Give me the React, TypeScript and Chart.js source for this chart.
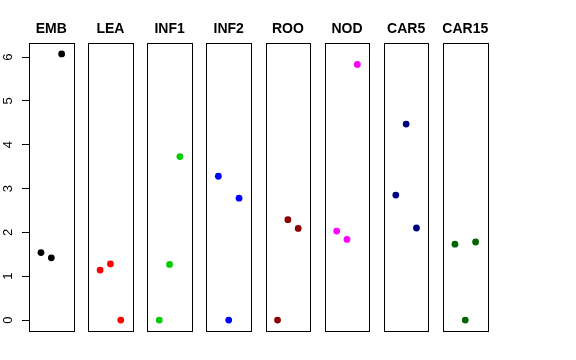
import React, { useEffect, useRef } from "react";
import { Chart, registerables } from "chart.js";

Chart.register(...registerables);

const panels = ["EMB", "LEA", "INF1", "INF2", "ROO", "NOD", "CAR5", "CAR15"];
const colors = ["#000000", "#FF0000", "#00CD00", "#0000FF", "#8B0000", "#FF00FF", "#000080", "#006400"];
const positions = [1, 2, 3];
const embValues = [1.54, 1.42, 6.07];
const leaValues = [1.14, 1.28, 0];
const inf1Values = [0, 1.27, 3.73];
const inf2Values = [3.28, 0, 2.78];
const rooValues = [0, 2.29, 2.09];
const nodValues = [2.03, 1.84, 5.83];
const car5Values = [2.85, 4.47, 2.1];
const car15Values = [1.73, 0, 1.78];
const seriesValues = [embValues, leaValues, inf1Values, inf2Values, rooValues, nodValues, car5Values, car15Values];
const yTicks = [0, 1, 2, 3, 4, 5, 6];

const W = 576;
const H = 360;
const PANEL_LEFT0 = 29;
const PANEL_STEP = 59.14;
const PANEL_W = 44.6;
const PANEL_TOP = 43.3;
const PANEL_BOTTOM = 330.7;

const allVals = seriesValues.flat();
const yLo = Math.min(...allVals);
const yHi = Math.max(...allVals);
const yPad = (yHi - yLo) * 0.04;
const xLo = 0;
const xHi = 4;
const xPad = (xHi - xLo) * 0.04;

const boxPlugin = {
  id: "panelBox",
  afterDraw(chart: any, _args: any, opts: any) {
    const { ctx, chartArea } = chart;
    const { left, right, top, bottom } = chartArea;
    ctx.save();
    ctx.strokeStyle = "#000";
    ctx.lineWidth = 1;
    const l = Math.round(left) + 0.5;
    const r = Math.round(right) + 0.5;
    const t = Math.round(top) + 0.5;
    const b = Math.round(bottom) + 0.5;
    ctx.strokeRect(l, t, r - l, b - t);
    ctx.fillStyle = "#000";
    ctx.font = "bold 14px 'Liberation Sans', Arial, sans-serif";
    ctx.textAlign = "center";
    ctx.textBaseline = "middle";
    ctx.fillText(opts.text, (left + right) / 2, 29.5);
    ctx.restore();
  },
};

function Panel({ index }: { index: number }) {
  const ref = useRef<HTMLCanvasElement | null>(null);
  useEffect(() => {
    if (!ref.current) return;
    const left = PANEL_LEFT0 + index * PANEL_STEP;
    const showY = index === 0;
    const chart = new Chart(ref.current, {
      type: "scatter",
      data: {
        datasets: [
          {
            data: positions.map((p, i) => ({ x: p, y: seriesValues[index][i] })),
            backgroundColor: colors[index],
            borderColor: colors[index],
            borderWidth: 0,
            pointRadius: 3.4,
            pointHoverRadius: 3.4,
          },
        ],
      },
      options: {
        animation: false,
        responsive: false,
        devicePixelRatio: 1,
        events: [],
        layout: {
          padding: {
            left: showY ? 0 : left,
            right: W - left - PANEL_W,
            top: PANEL_TOP,
            bottom: H - PANEL_BOTTOM,
          },
        },
        plugins: {
          legend: { display: false },
          tooltip: { enabled: false },
          title: { display: false },
          panelBox: { text: panels[index] },
        } as any,
        scales: {
          x: {
            type: "linear",
            display: false,
            min: xLo - xPad,
            max: xHi + xPad,
          },
          y: {
            type: "linear",
            display: showY,
            position: "left",
            min: yLo - yPad,
            max: yHi + yPad,
            afterBuildTicks: (scale: any) => {
              scale.ticks = yTicks.map((v) => ({ value: v }));
            },
            afterFit: (scale: any) => {
              scale.width = showY ? left : 0;
            },
            border: { display: false },
            grid: {
              display: true,
              drawOnChartArea: false,
              drawTicks: true,
              tickLength: 7,
              color: "#000",
              lineWidth: 1,
            },
            ticks: {
              color: "#000",
              font: { family: "'Liberation Sans', Arial, sans-serif", size: 13 },
              minRotation: 90,
              maxRotation: 90,
              crossAlign: "center",
              padding: 10,
              autoSkip: false,
            },
          },
        },
      },
      plugins: [boxPlugin],
    } as any);
    return () => chart.destroy();
  }, [index]);
  return (
    <canvas
      ref={ref}
      width={W}
      height={H}
      style={{ position: "absolute", left: 0, top: 0, width: W, height: H }}
    />
  );
}

export default function App() {
  return (
    <div style={{ position: "fixed", left: 0, top: 0, width: W, height: H, background: "#fff" }}>
      {panels.map((_, i) => (
        <Panel key={i} index={i} />
      ))}
    </div>
  );
}
